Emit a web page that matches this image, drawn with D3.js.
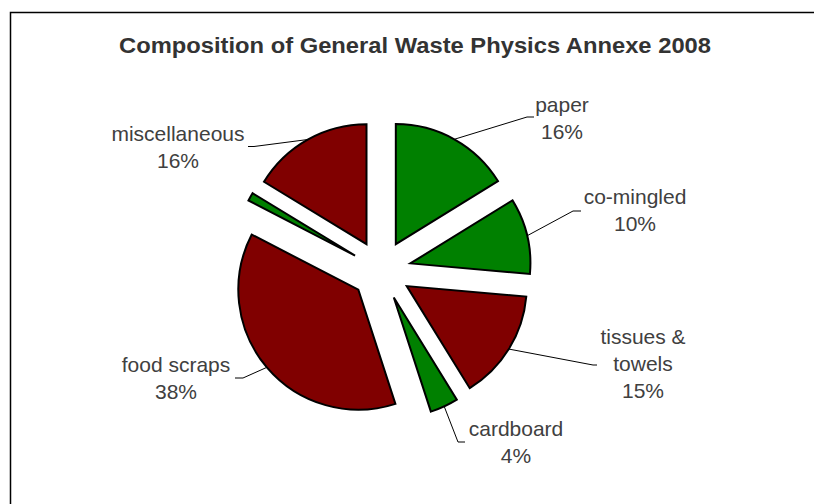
<!DOCTYPE html>
<html>
<head>
<meta charset="utf-8">
<script src="https://cdn.jsdelivr.net/npm/d3@7"></script>
<style>
  html, body { margin: 0; padding: 0; background: #fff; }
  svg { display: block; }
</style>
</head>
<body>
<svg id="chart" width="814" height="504"></svg>
<script>
// ---- data ----
const categories = ["paper", "co-mingled", "tissues & towels", "cardboard", "food scraps", "other", "miscellaneous"];
const values     = [16.2, 10.2, 14.8, 3.8, 37.6, 1.1, 16.3];
const colors     = ["#008000", "#008000", "#800000", "#008000", "#800000", "#008000", "#800000"];
const labelLines = [["paper"], ["co-mingled"], ["tissues &", "towels"], ["cardboard"], ["food scraps"], null, ["miscellaneous"]];
const titleText  = "Composition of General Waste Physics Annexe 2008";

// ---- layout ----
const W = 814, H = 504;
const cx = 381.2, cy = 270.3, R = 120, explode = 30;
const lineH = 27;
// label text centre x, first baseline y, leader elbow point and end point
const labelLayout = [
  { x: 562, y: 112, ex: 527, ey: 117, hx: 534 },
  { x: 635, y: 204, ex: 573, ey: 211, hx: 581 },
  { x: 643, y: 344, ex: 593, ey: 365, hx: 597 },
  { x: 516, y: 436, ex: 458, ey: 442, hx: 465 },
  { x: 176, y: 372, ex: 243, ey: 378, hx: 235 },
  null,
  { x: 178, y: 141, ex: 254, ey: 146.5, hx: 248 }
];

const svg = d3.select("#chart");

// chart area border
svg.append("rect")
  .attr("x", 10.5).attr("y", 12.5)
  .attr("width", 820).attr("height", 520)
  .attr("fill", "#fff")
  .attr("stroke", "#000").attr("stroke-width", 1.5);

// title
svg.append("text")
  .attr("x", 415).attr("y", 53)
  .attr("text-anchor", "middle")
  .attr("font-family", "'Liberation Sans', Arial, sans-serif")
  .attr("font-weight", "bold")
  .attr("font-size", 22)
  .attr("textLength", 592)
  .attr("lengthAdjust", "spacingAndGlyphs")
  .attr("fill", "#333")
  .text(titleText);

const data = categories.map((c, i) => ({ cat: c, value: values[i], i }));
const pie = d3.pie().sort(null).value(d => d.value).startAngle(0).endAngle(2 * Math.PI);
const arcs = pie(data);
const arc = d3.arc().innerRadius(0).outerRadius(R);
const edgeArc = d3.arc().innerRadius(R).outerRadius(R);
const total = d3.sum(values);
const pct = d3.format(".0%");

const g = svg.append("g").attr("transform", `translate(${cx},${cy})`);

function offset(a) {
  const mid = (a.startAngle + a.endAngle) / 2;
  return [explode * Math.sin(mid), -explode * Math.cos(mid)];
}

// leader lines
arcs.forEach((a, i) => {
  const L = labelLayout[i];
  if (!L) return;
  const [ox, oy] = offset(a);
  const [sx, sy] = edgeArc.centroid(a);
  const pts = [[cx + ox + sx, cy + oy + sy], [L.ex, L.ey], [L.hx, L.ey]];
  svg.append("path")
    .attr("d", d3.line()(pts))
    .attr("fill", "none")
    .attr("stroke", "#000")
    .attr("stroke-width", 1);
});

// slices
g.selectAll("path.slice")
  .data(arcs)
  .join("path")
  .attr("class", "slice")
  .attr("transform", a => `translate(${offset(a)[0]},${offset(a)[1]})`)
  .attr("d", arc)
  .attr("fill", a => colors[a.data.i])
  .attr("stroke", "#000")
  .attr("stroke-width", 2)
  .attr("stroke-linejoin", "miter");

// labels
arcs.forEach((a, i) => {
  const L = labelLayout[i];
  if (!L) return;
  const lines = labelLines[i].concat([pct(a.data.value / total)]);
  const t = svg.append("text")
    .attr("text-anchor", "middle")
    .attr("font-family", "'Liberation Sans', Arial, sans-serif")
    .attr("font-size", 21)
    .attr("fill", "#404040");
  lines.forEach((ln, k) => {
    t.append("tspan").attr("x", L.x).attr("y", L.y + k * lineH).text(ln);
  });
});
</script>
</body>
</html>
